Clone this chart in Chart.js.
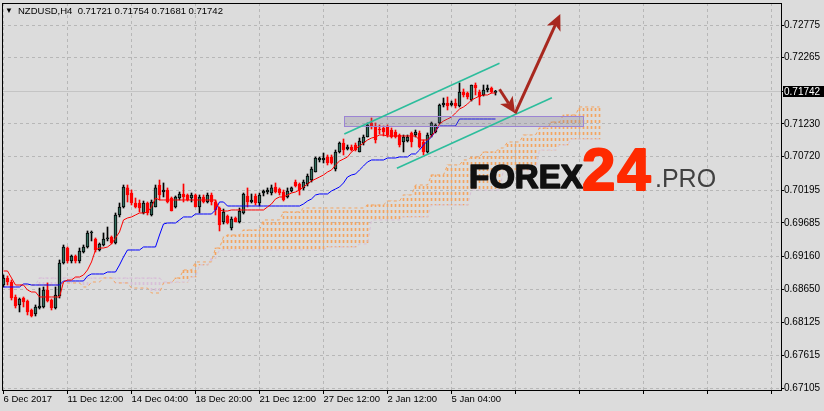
<!DOCTYPE html>
<html>
<head>
<meta charset="utf-8">
<title>NZDUSD H4</title>
<script src="https://cdn.jsdelivr.net/npm/chart.js@4.4.1/dist/chart.umd.min.js"></script>
<style>
  html, body { margin: 0; padding: 0; background: #dcdcdc; overflow: hidden; }
  canvas { display: block; }
</style>
</head>
<body>
<canvas id="chart" width="824" height="411"></canvas>
<script>
// NZDUSD H4 candles with Ichimoku

var symbol = 'NZDUSD', period = 'H4';

var openP = [
  0.68714,0.68824,0.68761,0.68527,0.68402,0.68511,0.68464,0.68324,0.68261,0.68355,
  0.68371,0.68636,0.68480,0.68355,0.68543,0.69058,0.69292,0.69089,0.69167,0.69089,
  0.69230,0.69308,0.69527,0.69433,0.69261,0.69339,0.69433,0.69464,0.69370,0.69808,
  0.69933,0.70230,0.70151,0.69995,0.69995,0.69839,0.69995,0.69808,0.69933,0.70276,
  0.70167,0.70198,0.70073,0.69933,0.70073,0.70136,0.70120,0.70073,0.70120,0.69933,
  0.70089,0.70011,0.70120,0.70011,0.69917,0.69698,0.69792,0.69605,0.69761,0.69698,
  0.69839,0.70105,0.70011,0.70105,0.69995,0.70151,0.70167,0.70151,0.70245,0.70214,
  0.70167,0.70089,0.70183,0.70323,0.70292,0.70230,0.70292,0.70354,0.70479,0.70667,
  0.70667,0.70714,0.70714,0.70526,0.70792,0.70932,0.70839,0.70870,0.70901,0.70792,
  0.70932,0.71026,0.71245,0.71198,0.71151,0.71167,0.71182,0.71135,0.71104,0.71057,
  0.70948,0.70964,0.71089,0.71057,0.71089,0.70948,0.70792,0.71057,0.71104,0.71245,
  0.71526,0.71557,0.71526,0.71557,0.71510,0.71729,0.71713,0.71604,0.71838,0.71729,
  0.71682,0.71760,0.71791,0.71721
];
var highP = [
  0.68871,0.68855,0.68792,0.68558,0.68511,0.68527,0.68480,0.68339,0.68402,0.68667,
  0.68683,0.68746,0.68496,0.68683,0.69105,0.69339,0.69308,0.69183,0.69183,0.69292,
  0.69339,0.69558,0.69558,0.69449,0.69370,0.69527,0.69620,0.69480,0.69839,0.69995,
  0.70276,0.70276,0.70198,0.70073,0.70042,0.70026,0.70011,0.70042,0.70276,0.70354,
  0.70308,0.70230,0.70089,0.70105,0.70167,0.70292,0.70136,0.70151,0.70136,0.70120,
  0.70120,0.70151,0.70151,0.70042,0.69933,0.69901,0.69808,0.69777,0.69777,0.69917,
  0.70151,0.70230,0.70136,0.70136,0.70151,0.70198,0.70230,0.70276,0.70308,0.70230,
  0.70198,0.70230,0.70245,0.70354,0.70308,0.70354,0.70448,0.70557,0.70714,0.70714,
  0.70776,0.70745,0.70745,0.70823,0.70948,0.70995,0.70901,0.70901,0.70932,0.71010,
  0.71057,0.71245,0.71323,0.71245,0.71214,0.71198,0.71214,0.71167,0.71135,0.71073,
  0.71057,0.71057,0.71104,0.71135,0.71120,0.70979,0.71089,0.71260,0.71229,0.71541,
  0.71635,0.71651,0.71588,0.71620,0.71870,0.71776,0.71729,0.71838,0.71870,0.71760,
  0.71838,0.71838,0.71807,0.71754
];
var lowP = [
  0.68683,0.68714,0.68480,0.68355,0.68293,0.68371,0.68246,0.68215,0.68230,0.68339,
  0.68355,0.68449,0.68324,0.68339,0.68511,0.69042,0.69058,0.69058,0.69058,0.69058,
  0.69214,0.69292,0.69402,0.69230,0.69245,0.69324,0.69402,0.69355,0.69355,0.69777,
  0.69917,0.70011,0.69964,0.69917,0.69855,0.69823,0.69808,0.69792,0.69933,0.70042,
  0.70089,0.69995,0.69870,0.69917,0.70042,0.70011,0.70026,0.70011,0.69933,0.69839,
  0.69995,0.69995,0.69964,0.69808,0.69558,0.69667,0.69667,0.69573,0.69698,0.69683,
  0.69823,0.69933,0.69995,0.69964,0.69948,0.70105,0.70136,0.70120,0.70151,0.70120,
  0.70026,0.70073,0.70167,0.70245,0.70120,0.70198,0.70261,0.70323,0.70479,0.70636,
  0.70620,0.70589,0.70604,0.70495,0.70776,0.70745,0.70823,0.70807,0.70807,0.70792,
  0.70901,0.71026,0.71151,0.70932,0.71073,0.71042,0.71026,0.71010,0.71010,0.70870,
  0.70792,0.70948,0.70870,0.71026,0.70854,0.70745,0.70776,0.71026,0.71089,0.71229,
  0.71495,0.71448,0.71510,0.71479,0.71495,0.71651,0.71620,0.71588,0.71682,0.71526,
  0.71666,0.71729,0.71713,0.71681
];
var closeP = [
  0.68824,0.68761,0.68511,0.68386,0.68496,0.68449,0.68293,0.68230,0.68371,0.68386,
  0.68636,0.68464,0.68355,0.68558,0.69058,0.69308,0.69089,0.69167,0.69089,0.69245,
  0.69308,0.69527,0.69542,0.69261,0.69355,0.69433,0.69449,0.69370,0.69808,0.69933,
  0.70245,0.70120,0.69995,0.69933,0.69917,0.69995,0.69839,0.70011,0.70230,0.70120,
  0.70198,0.70011,0.69870,0.70089,0.70136,0.70089,0.70042,0.70120,0.69933,0.70089,
  0.70011,0.70120,0.70011,0.69886,0.69652,0.69855,0.69683,0.69745,0.69698,0.69870,
  0.70136,0.70011,0.70042,0.69995,0.70120,0.70183,0.70198,0.70230,0.70167,0.70151,
  0.70042,0.70183,0.70230,0.70261,0.70198,0.70323,0.70417,0.70526,0.70698,0.70698,
  0.70698,0.70620,0.70620,0.70792,0.70932,0.70823,0.70870,0.70823,0.70823,0.70964,
  0.71026,0.71214,0.71182,0.70979,0.71135,0.71104,0.71057,0.71026,0.71026,0.70901,
  0.71026,0.71026,0.70948,0.71104,0.70870,0.70792,0.71057,0.71245,0.71214,0.71526,
  0.71557,0.71510,0.71557,0.71510,0.71729,0.71682,0.71651,0.71838,0.71791,0.71651,
  0.71760,0.71791,0.71729,0.71742
];

// Ichimoku lines (tenkan-sen red, kijun-sen blue)
var tenkan = [
  0.68933,0.68933,0.68824,0.68714,0.68714,0.68714,0.68636,0.68605,0.68605,0.68527,
  0.68527,0.68527,0.68527,0.68527,0.68527,0.68761,0.68792,0.68792,0.68839,0.68839,
  0.68871,0.68949,0.69074,0.69261,0.69292,0.69292,0.69308,0.69355,0.69449,0.69542,
  0.69730,0.69761,0.69777,0.69808,0.69839,0.69839,0.69855,0.69933,0.70073,0.70042,
  0.70042,0.70042,0.70042,0.70042,0.70042,0.70042,0.70042,0.70042,0.70042,0.70042,
  0.70042,0.70042,0.70042,0.70042,0.69886,0.69870,0.69870,0.69886,0.69886,0.69886,
  0.69886,0.69886,0.69886,0.69886,0.69886,0.69886,0.69933,0.69980,0.70058,0.70089,
  0.70089,0.70120,0.70151,0.70167,0.70198,0.70245,0.70292,0.70339,0.70370,0.70401,
  0.70433,0.70479,0.70511,0.70589,0.70651,0.70682,0.70714,0.70792,0.70839,0.70885,
  0.70932,0.70979,0.71010,0.71026,0.71057,0.71057,0.71042,0.71042,0.71042,0.71042,
  0.71042,0.71042,0.71042,0.71042,0.70979,0.70979,0.70979,0.71042,0.71120,0.71229,
  0.71276,0.71307,0.71338,0.71401,0.71463,0.71495,0.71541,0.71604,0.71635,0.71666,
  0.71682,0.71682,0.71713,0.71713
];
var kijun = [
  0.68683,0.68683,0.68683,0.68683,0.68683,0.68730,0.68730,0.68714,0.68714,0.68714,
  0.68714,0.68714,0.68714,0.68714,0.68714,0.68777,0.68777,0.68777,0.68777,0.68777,
  0.68777,0.68855,0.68886,0.68886,0.68886,0.68886,0.68917,0.68917,0.68917,0.69027,
  0.69152,0.69261,0.69261,0.69261,0.69261,0.69308,0.69308,0.69308,0.69308,0.69495,
  0.69667,0.69683,0.69683,0.69683,0.69730,0.69777,0.69777,0.69777,0.69823,0.69823,
  0.69823,0.69823,0.69823,0.69886,0.70011,0.70011,0.69948,0.69948,0.69948,0.69948,
  0.69948,0.69948,0.69948,0.69948,0.69948,0.69948,0.69948,0.69948,0.69948,0.69948,
  0.69948,0.69948,0.69948,0.69948,0.69948,0.69980,0.70026,0.70058,0.70120,0.70136,
  0.70136,0.70136,0.70183,0.70214,0.70245,0.70308,0.70401,0.70433,0.70448,0.70511,
  0.70573,0.70636,0.70667,0.70667,0.70667,0.70667,0.70698,0.70698,0.70698,0.70714,
  0.70714,0.70714,0.70761,0.70761,0.70823,0.70901,0.70964,0.71026,0.71120,0.71198,
  0.71198,0.71198,0.71198,0.71198,0.71307,0.71307,0.71307,0.71307,0.71307,0.71307,
  0.71307,0.71307,0.71307,0.71307
];
// senkou spans, already shifted 26 bars ahead (null where not drawn)
var senkouA = [
  null,null,null,null,0.68714,0.68714,0.68714,0.68714,0.68714,0.68714,
  0.68714,0.68714,0.68714,0.68714,0.68714,0.68746,0.68746,0.68746,0.68746,0.68746,
  0.68683,0.68683,0.68761,0.68761,0.68761,0.68824,0.68824,0.68824,0.68746,0.68746,
  0.68746,0.68746,0.68667,0.68667,0.68667,0.68667,0.68667,0.68589,0.68589,0.68589,
  0.68746,0.68746,0.68746,0.68824,0.68824,0.68949,0.68949,0.68949,0.69074,0.69074,
  0.69074,0.69074,0.69074,0.69292,0.69292,0.69464,0.69495,0.69495,0.69495,0.69495,
  0.69573,0.69573,0.69573,0.69573,0.69573,0.69730,0.69730,0.69730,0.69730,0.69730,
  0.69855,0.69855,0.69855,0.69855,0.69855,0.69917,0.69917,0.69917,0.69917,0.69917,
  0.69917,0.69917,0.69917,0.69917,0.69917,0.69917,0.69917,0.69917,0.69917,0.69917,
  0.69917,0.69964,0.69964,0.69964,0.69964,0.69964,0.70026,0.70026,0.70026,0.70026,
  0.70120,0.70120,0.70120,0.70276,0.70276,0.70276,0.70276,0.70433,0.70433,0.70433,
  0.70433,0.70589,0.70589,0.70589,0.70589,0.70667,0.70667,0.70714,0.70714,0.70714,
  0.70792,0.70792,0.70792,0.70792,0.70854,0.70854,0.70948,0.70948,0.70948,0.70948,
  0.71057,0.71057,0.71057,0.71057,0.71167,0.71167,0.71167,0.71260,0.71260,0.71260,
  0.71370,0.71370,0.71370,0.71370,0.71495,0.71495,0.71495,0.71495,0.71495,0.71495
];
var senkouB = [
  null,null,null,null,0.68714,0.68714,0.68714,0.68714,0.68714,0.68824,
  0.68824,0.68824,0.68824,0.68824,0.68824,0.68824,0.68824,0.68824,0.68824,0.68824,
  0.68824,0.68824,0.68824,0.68824,0.68824,0.68824,0.68824,0.68824,0.68824,0.68824,
  0.68824,0.68824,0.68824,0.68824,0.68824,0.68824,0.68824,0.68824,0.68824,0.68824,
  0.68761,0.68761,0.68761,0.68761,0.68761,0.68761,0.68761,0.68839,0.68839,0.69027,
  0.69027,0.69027,0.69136,0.69136,0.69261,0.69261,0.69261,0.69261,0.69261,0.69261,
  0.69261,0.69261,0.69261,0.69261,0.69261,0.69261,0.69261,0.69261,0.69261,0.69261,
  0.69261,0.69261,0.69261,0.69261,0.69261,0.69261,0.69261,0.69261,0.69261,0.69261,
  0.69261,0.69308,0.69308,0.69308,0.69308,0.69308,0.69308,0.69308,0.69308,0.69355,
  0.69355,0.69355,0.69730,0.69730,0.69730,0.69730,0.69730,0.69730,0.69730,0.69730,
  0.69777,0.69777,0.69777,0.69777,0.69777,0.69777,0.69777,0.69964,0.69964,0.69964,
  0.69964,0.69964,0.69964,0.69964,0.69964,0.69964,0.69964,0.70198,0.70198,0.70198,
  0.70198,0.70198,0.70198,0.70198,0.70198,0.70511,0.70511,0.70511,0.70511,0.70511,
  0.70511,0.70511,0.70511,0.70511,0.70823,0.70823,0.70823,0.70823,0.70823,0.70901,
  0.70901,0.70901,0.70995,0.70995,0.70995,0.70995,0.70995,0.70995,0.70995,0.70995
];

var timeLabels = ['6 Dec 2017', '11 Dec 12:00', '14 Dec 04:00', '18 Dec 20:00',
                  '21 Dec 12:00', '27 Dec 12:00', '2 Jan 12:00', '5 Jan 04:00'];
var barsPerLabel = 16;
var priceTicks = [0.72775, 0.72265, 0.71742, 0.71230, 0.70720, 0.70195,
                  0.69685, 0.69160, 0.68650, 0.68125, 0.67615, 0.67105];

// objects drawn on the chart by hand: [bar index, price]
var zoneBox = { from: 85.2, to: 144.9, top: 0.71354, bottom: 0.71198 };
var channelTop = [[85.2, 0.71073], [124.0, 0.72177]];
var channelBottom = [[98.35, 0.70537], [137.1, 0.71640]];
var arrowDown = [[124.0, 0.71771], [127.9, 0.71396]];
var arrowUp = [[127.9, 0.71396], [139.2, 0.72947]];

var BG = '#dcdcdc',
    GRID = '#b7b7b7',
    BULL = '#336e5e',
    BEAR = '#ff0000',
    FONT = '"Liberation Sans", Arial, sans-serif';

/**
 * Padrão tracejado vertical para a nuvem
 */
function hatch(color) {
    var c = document.createElement('canvas');
    c.width = 1; c.height = 6;
    var g = c.getContext('2d');
    g.fillStyle = color;
    g.fillRect(0, 0, 1, 3);
    return g.createPattern(c, 'repeat');
}
var hatchUp = hatch('#f4a460'),
    hatchDown = hatch('#d8bfd8');

// candles
var bodies = [], wicks = [], bodyFill = [], bodyLine = [], wickColor = [];
openP.forEach(function (o, i) {
    var up = closeP[i] >= o;
    bodies.push({ x: i, y: [o, closeP[i]] });
    wicks.push({ x: i, y: [lowP[i], highP[i]] });
    bodyFill.push(up ? BULL : BEAR);
    bodyLine.push(up ? '#000000' : BEAR);
    wickColor.push(up ? '#000000' : BEAR);
});

// cloud
var cloudBars = [], cloudColors = [];
senkouA.forEach(function (a, i) {
    var b = senkouB[i];
    if (a == null || b == null || a === b) return;
    cloudBars.push({ x: i, y: [Math.min(a, b), Math.max(a, b)] });
    cloudColors.push(a > b ? hatchUp : hatchDown);
});

function toPoints(arr) {
    var pts = [];
    arr.forEach(function (v, i) { if (v != null) pts.push({ x: i, y: v }); });
    return pts;
}

var xTicks = [];
for (var k = 0; k * barsPerLabel <= 194; k++) xTicks.push(k * barsPerLabel);

var lastBar = openP.length - 1;

function pt(chart, p) {
    return [chart.scales.x.getPixelForValue(p[0]), chart.scales.y.getPixelForValue(p[1])];
}

function drawArrow(ctx, a, b, color) {
    var dx = b[0] - a[0], dy = b[1] - a[1], len = Math.hypot(dx, dy);
    var ux = dx / len, uy = dy / len, head = 16, half = 7.5;
    var bx = b[0] - ux * head, by = b[1] - uy * head;
    ctx.strokeStyle = color;
    ctx.fillStyle = color;
    ctx.lineWidth = 3;
    ctx.beginPath();
    ctx.moveTo(a[0], a[1]);
    ctx.lineTo(bx + ux * 4, by + uy * 4);
    ctx.stroke();
    ctx.beginPath();
    ctx.moveTo(b[0], b[1]);
    ctx.lineTo(bx - uy * half, by + ux * half);
    ctx.lineTo(bx + ux * 4, by + uy * 4);
    ctx.lineTo(bx + uy * half, by - ux * half);
    ctx.closePath();
    ctx.fill();
}

var terminalDecor = {
    id: 'terminalDecor',
    beforeDraw: function (chart) {
        var ctx = chart.ctx;
        ctx.save();
        ctx.fillStyle = BG;
        ctx.fillRect(0, 0, chart.width, chart.height);
        ctx.restore();
    },
    beforeDatasetsDraw: function (chart) {
        // linha do preço atual
        var ctx = chart.ctx, a = chart.chartArea;
        var py = Math.round(chart.scales.y.getPixelForValue(closeP[lastBar])) + 0.5;
        ctx.save();
        ctx.strokeStyle = '#c4c4c4';
        ctx.lineWidth = 1;
        ctx.beginPath();
        ctx.moveTo(a.left, py);
        ctx.lineTo(a.right, py);
        ctx.stroke();
        ctx.restore();
    },
    afterDatasetsDraw: function (chart) {
        var ctx = chart.ctx, a = chart.chartArea;
        ctx.save();
        ctx.beginPath();
        ctx.rect(a.left, a.top, a.right - a.left, a.bottom - a.top);
        ctx.clip();

        // zona retangular
        var p1 = pt(chart, [zoneBox.from, zoneBox.top]),
            p2 = pt(chart, [zoneBox.to, zoneBox.bottom]);
        var x1 = Math.round(p1[0]) + 0.5, y1 = Math.round(p1[1]) + 0.5,
            x2 = Math.round(p2[0]) + 0.5, y2 = Math.round(p2[1]) + 0.5;
        ctx.fillStyle = 'rgba(115, 112, 135, 0.25)';
        ctx.fillRect(x1, y1, x2 - x1, y2 - y1);
        ctx.strokeStyle = '#9c84d4';
        ctx.lineWidth = 1;
        ctx.strokeRect(x1, y1, x2 - x1, y2 - y1);

        // canal
        ctx.strokeStyle = '#2cbd9c';
        ctx.lineWidth = 1.6;
        [channelTop, channelBottom].forEach(function (line) {
            var s = pt(chart, line[0]), e = pt(chart, line[1]);
            ctx.beginPath();
            ctx.moveTo(s[0], s[1]);
            ctx.lineTo(e[0], e[1]);
            ctx.stroke();
        });

        // setas
        drawArrow(ctx, pt(chart, arrowDown[0]), pt(chart, arrowDown[1]), '#a8281f');
        drawArrow(ctx, pt(chart, arrowUp[0]), pt(chart, arrowUp[1]), '#a8281f');

        // marca d'água
        ctx.textBaseline = 'alphabetic';
        ctx.textAlign = 'left';
        ctx.lineJoin = 'round';
        ctx.fillStyle = '#111111';
        ctx.strokeStyle = '#111111';
        ctx.lineWidth = 1.6;
        ctx.font = 'bold 33px ' + FONT;
        ctx.fillText('FOREX', 469, 188);
        ctx.strokeText('FOREX', 469, 188);
        ctx.fillStyle = '#ff2a00';
        ctx.strokeStyle = '#ff2a00';
        ctx.lineWidth = 2;
        ctx.font = 'bold 60px ' + FONT;
        ctx.letterSpacing = '2px';
        ctx.fillText('24', 582, 190);
        ctx.strokeText('24', 582, 190);
        ctx.letterSpacing = '0px';
        ctx.fillStyle = '#404040';
        ctx.font = '25px ' + FONT;
        ctx.fillText('.PRO', 655, 187);
        ctx.restore();
    },
    afterDraw: function (chart) {
        var ctx = chart.ctx, a = chart.chartArea;
        ctx.save();
        // moldura
        ctx.strokeStyle = '#000000';
        ctx.lineWidth = 1;
        ctx.strokeRect(a.left + 0.5, a.top + 0.5, a.right - a.left, a.bottom - a.top);

        // título
        var title = symbol + ',' + period + '  ' +
            [openP[lastBar], highP[lastBar], lowP[lastBar], closeP[lastBar]]
                .map(function (v) { return v.toFixed(5); }).join(' ');
        ctx.fillStyle = '#000000';
        ctx.textBaseline = 'middle';
        ctx.font = '8px ' + FONT;
        ctx.fillText('\u25BC', 5, 11);
        ctx.font = '9.5px ' + FONT;
        ctx.fillText(title, 18, 11);

        // etiqueta do preço atual
        var py = Math.round(chart.scales.y.getPixelForValue(closeP[lastBar]));
        ctx.fillStyle = '#000000';
        ctx.fillRect(a.right + 2, py - 5, 41, 11);
        ctx.fillStyle = '#ffffff';
        ctx.font = '10px ' + FONT;
        ctx.fillText(closeP[lastBar].toFixed(5), a.right + 3, py + 1);
        ctx.restore();
    }
};

new Chart(document.getElementById('chart'), {
    type: 'bar',
    data: {
        datasets: [{
            type: 'line', label: 'Tenkan-sen', data: toPoints(tenkan), order: 1,
            borderColor: '#ff0000', borderWidth: 1, pointRadius: 0, tension: 0
        }, {
            type: 'line', label: 'Kijun-sen', data: toPoints(kijun), order: 2,
            borderColor: '#0000ff', borderWidth: 1, pointRadius: 0, tension: 0
        }, {
            label: 'Body', data: bodies, order: 3, grouped: false,
            barThickness: 3, minBarLength: 1, borderSkipped: false,
            backgroundColor: bodyFill, borderColor: bodyLine, borderWidth: 1
        }, {
            label: 'Wick', data: wicks, order: 4, grouped: false,
            barThickness: 1, minBarLength: 1, borderWidth: 0,
            backgroundColor: wickColor
        }, {
            type: 'line', label: 'Senkou A', data: toPoints(senkouA), order: 5,
            borderColor: '#f4a460', borderWidth: 1, borderDash: [3, 3], pointRadius: 0, tension: 0
        }, {
            type: 'line', label: 'Senkou B', data: toPoints(senkouB), order: 6,
            borderColor: '#d8bfd8', borderWidth: 1, borderDash: [3, 3], pointRadius: 0, tension: 0
        }, {
            label: 'Cloud', data: cloudBars, order: 7, grouped: false,
            barThickness: 1, borderWidth: 0, backgroundColor: cloudColors
        }]
    },
    options: {
        responsive: false,
        devicePixelRatio: 1,
        animation: false,
        events: [],
        layout: { padding: { left: 2, top: 3, right: 0, bottom: 0 } },
        plugins: { legend: { display: false }, tooltip: { enabled: false } },
        scales: {
            x: {
                type: 'linear', min: -0.375, max: 194.375, offset: false,
                afterBuildTicks: function (s) { s.ticks = xTicks.map(function (v) { return { value: v }; }); },
                afterFit: function (s) { s.height = 21; s.paddingLeft = 0; s.paddingRight = 0; },
                ticks: {
                    autoSkip: false, maxRotation: 0, minRotation: 0, align: 'start', padding: 0,
                    color: '#000000', font: { family: FONT, size: 9.5 },
                    callback: function (v, i) { return timeLabels[i] || ''; }
                },
                grid: { offset: false, color: GRID, tickColor: '#000000', tickLength: 4, tickBorderDash: [] },
                border: { display: false, dash: [3, 3] }
            },
            y: {
                type: 'linear', position: 'right', min: 0.67074, max: 0.73119,
                afterBuildTicks: function (s) { s.ticks = priceTicks.map(function (v) { return { value: v }; }); },
                afterFit: function (s) { s.width = 43; s.paddingTop = 0; s.paddingBottom = 0; },
                ticks: {
                    padding: 0, color: '#000000', font: { family: FONT, size: 10 },
                    callback: function (v) { return v.toFixed(5); }
                },
                grid: { color: GRID, tickColor: '#000000', tickLength: 3, tickBorderDash: [] },
                border: { display: false, dash: [3, 3] }
            }
        }
    },
    plugins: [terminalDecor]
});
</script>
</body>
</html>
